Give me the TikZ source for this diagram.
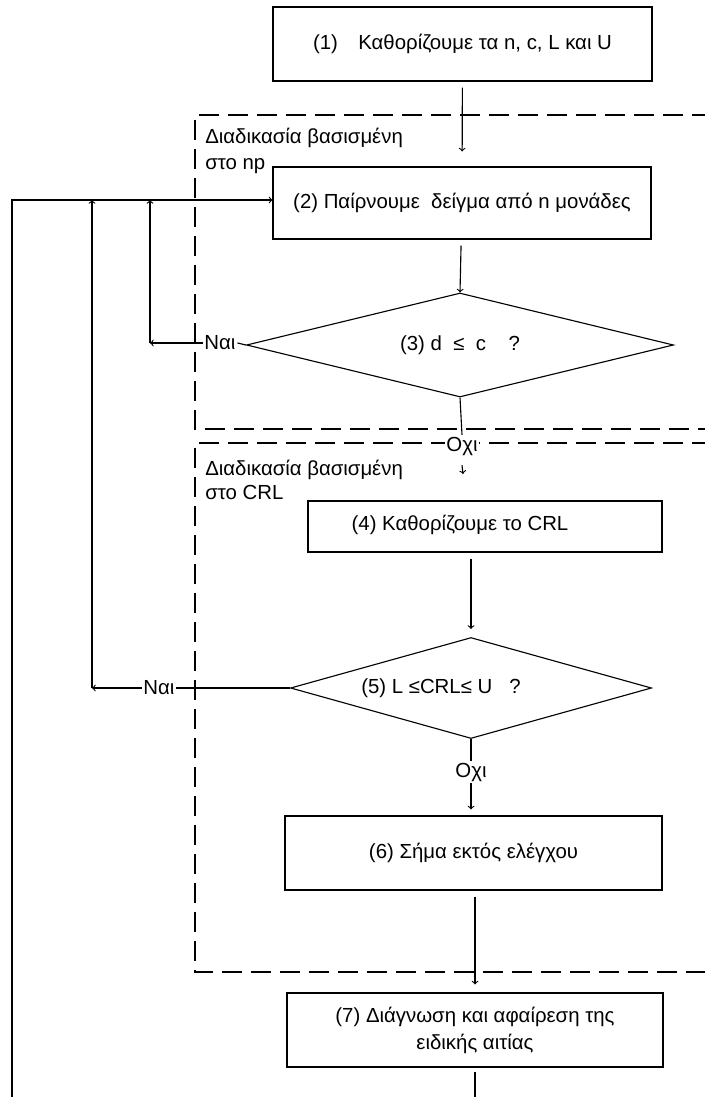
\documentclass[tikz,border=0pt]{standalone}
\usepackage{fontspec}
\setmainfont{Liberation Sans}
\usetikzlibrary{shapes.geometric}

\tikzset{
  stepbox/.style={draw, rectangle, inner sep=0pt, align=center},
  question/.style={draw, diamond, aspect=4, inner sep=0pt},
  region/.style={dash pattern=on 0.5cm off 0.225cm},
  flow/.style={->, shorten <=0.15cm},
  tag/.style={inner sep=1pt, fill=white}
}

\begin{document}
\begin{tikzpicture}[line width=0.8pt, font=\fontsize{14.5}{19.2}\selectfont]
\useasboundingbox (0,0) rectangle (17.6,-27.425);

%dashed regions
\draw [region] (17.8,-2.875) -- (4.875,-2.875) -- (4.875,-10.725) -- (17.8,-10.725);
\draw [region] (17.8,-11.075) -- (4.875,-11.075) -- (4.875,-24.3) -- (17.8,-24.3);

\node [anchor=west, align=left, font=\fontsize{14.5}{18.5}\selectfont] (lnp) at (5.0,-3.775){Διαδικασία βασισμένη\\στο np};
\node [anchor=west, align=left, font=\fontsize{14.5}{17}\selectfont] (lcrl) at (5.0,-12.0){Διαδικασία βασισμένη\\στο CRL};

% steps
\node [stepbox, minimum width=9.475cm, minimum height=1.85cm] (b1) at (11.5625,-1.1){(1)\hspace{1em}Καθορίζουμε τα n, c, L και U};
\node [stepbox, minimum width=9.45cm, minimum height=1.8cm] (b2) at (11.55,-5.075){(2) Παίρνουμε\ \ δείγμα από n μονάδες};
\node [question, minimum width=10.675cm, minimum height=2.6cm] (d3) at (11.5,-8.625){(3) d\ \ ≤\ \ c\ \ \ \ ?};
\node [stepbox, minimum width=8.85cm, minimum height=1.275cm] (b4) at (12.125,-13.1625){};
\node (t4) at (11.5,-13.125){(4) Καθορίζουμε το CRL};
\node [question, minimum width=9.025cm, minimum height=2.525cm] (d5) at (11.775,-17.2){};
\node (t5) at (11.025,-17.2){(5) L ≤CRL≤ U\ \ \ ?};
\node [stepbox, minimum width=9.425cm, minimum height=1.85cm] (b6) at (11.8375,-21.325){(6) Σήμα εκτός ελέγχου};
\node [stepbox, minimum width=9.4cm, minimum height=1.85cm] (b7) at (11.875,-25.75){(7) Διάγνωση και αφαίρεση της\\ειδικής αιτίας};

% yes / no labels
\node [tag] (n3) at (5.5,-8.575){Ναι};
\node [tag] (n5) at (3.975,-17.2){Ναι};
\node [tag] (o1) at (11.55,-11.15){Οχι};
\node [tag] (o2) at (11.775,-19.3){Οχι};

% loose ends
\coordinate (c3) at (3.75,-8.575);
\coordinate (c3u) at (3.75,-5.0);
\coordinate (c5) at (2.3,-17.2);
\coordinate (c5u) at (2.3,-5.0);
\coordinate (cb) at (0.3,-27.5);
\coordinate (ct) at (0.3,-5.0);
\coordinate (t1) at (11.575,-11.85);
\coordinate (cb7) at (11.875,-27.5);

% main flow
\draw [flow, shorten >=0.375cm] (b1) -- (b2);
\draw [flow] (b2) -- (d3.north);
\draw (d3.south) -- (o1.north);
\draw [->] ([yshift=-0.2cm]o1.south) -- (t1);
\draw [flow, shorten >=0.2cm] (b4.south -| d5.north) -- (d5.north);
\draw (d5.south) -- (o2.north);
\draw [->, shorten >=0.15cm] (o2.south) -- (b6.north -| o2.south);
\draw [flow, shorten >=0.2cm] (b6.south -| b7.north) -- (b7.north);
\draw [shorten <=0.1cm] (b7.south) -- (cb7);

% loops back to (2)
\draw (d3.west) -- (n3.east);
\draw [->] (n3.west) -- (c3);
\draw [->] (c3) -- (c3u);
\draw (d5.west) -- (n5.east);
\draw [->] (n5.west) -- (c5);
\draw [->] (c5) -- (c5u);
\draw [->] (cb) -- (ct) -- (ct -| b2.west);
\end{tikzpicture}
\end{document}
